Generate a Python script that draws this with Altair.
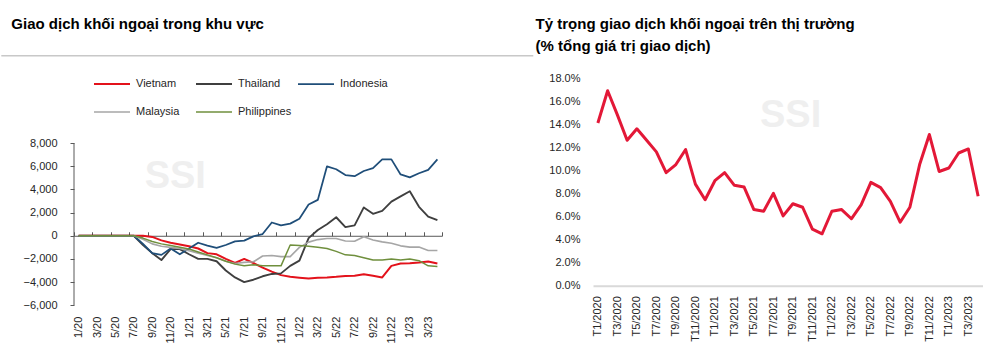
import json
import altair as alt
import pandas as pd

# ---------------- data ----------------
left_labels = [
    "1/20", "2/20", "3/20", "4/20", "5/20", "6/20", "7/20", "8/20", "9/20", "10/20", "11/20", "12/20",
    "1/21", "2/21", "3/21", "4/21", "5/21", "6/21", "7/21", "8/21", "9/21", "10/21", "11/21", "12/21",
    "1/22", "2/22", "3/22", "4/22", "5/22", "6/22", "7/22", "8/22", "9/22", "10/22", "11/22", "12/22",
    "1/23", "2/23", "3/23", "4/23",
]
right_labels = [
    "T1/2020", "T2/2020", "T3/2020", "T4/2020", "T5/2020", "T6/2020", "T7/2020", "T8/2020", "T9/2020", "T10/2020", "T11/2020", "T12/2020",
    "T1/2021", "T2/2021", "T3/2021", "T4/2021", "T5/2021", "T6/2021", "T7/2021", "T8/2021", "T9/2021", "T10/2021", "T11/2021", "T12/2021",
    "T1/2022", "T2/2022", "T3/2022", "T4/2022", "T5/2022", "T6/2022", "T7/2022", "T8/2022", "T9/2022", "T10/2022", "T11/2022", "T12/2022",
    "T1/2023", "T2/2023", "T3/2023", "T4/2023",
]

series_names = ["Vietnam", "Thailand", "Indonesia", "Malaysia", "Philippines"]
series_colors = ["#e3121b", "#3f3f3f", "#1f4e79", "#a6a6a6", "#6f8f3d"]

vietnam = [0, 0, 0, 0, 0, 0, 0, 0, -100, -400, -600, -750, -900, -1100, -1500, -1600, -2000, -2350, -2000, -2350,
           -2750, -3100, -3400, -3550, -3620, -3700, -3620, -3600, -3550, -3480, -3460, -3320, -3460, -3600, -2600,
           -2400, -2380, -2320, -2220, -2400]
thailand = [0, 0, 0, 0, 0, 0, 0, -800, -1500, -2100, -1150, -1150, -1600, -2000, -2000, -2200, -3000, -3600, -4000,
            -3800, -3500, -3300, -3250, -2600, -2150, -200, 500, 1000, 1600, 750, 900, 2450, 1900, 2150, 2950, 3400,
            3850, 2500, 1650, 1350]
indonesia = [0, 0, 0, 0, 0, 0, 0, -700, -1500, -1650, -1100, -1600, -1100, -600, -850, -1050, -800, -480, -420, -50,
             150, 1150, 900, 1050, 1470, 2700, 3100, 6000, 5750, 5250, 5150, 5600, 5850, 6600, 6600, 5300, 5050, 5400,
             5700, 6600]
malaysia = [0, 0, 0, 0, 0, 0, 0, -300, -700, -900, -1000, -1100, -1300, -1500, -1700, -1900, -2200, -2400, -2300,
            -2250, -1750, -1700, -1800, -1800, -1000, -550, -330, -240, -240, -450, -470, -80, -360, -530, -650, -870,
            -980, -980, -1270, -1270]
philippines = [0, 0, 0, 0, 0, 0, 0, -200, -500, -700, -850, -1000, -1150, -1400, -1650, -1900, -2200, -2450, -2600,
               -2500, -2600, -2600, -2600, -800, -850, -900, -1000, -1100, -1350, -1650, -1700, -1900, -2100, -2100,
               -2000, -2100, -2000, -2150, -2600, -2650]

foreign_share = [14.1, 16.9, 14.8, 12.6, 13.6, 12.6, 11.6, 9.8, 10.5, 11.8, 8.8, 7.45, 9.1, 9.8, 8.7, 8.55, 6.6, 6.45,
                 8.0, 6.05, 7.1, 6.8, 4.9, 4.5, 6.45, 6.6, 5.8, 7.0, 8.95, 8.5, 7.3, 5.5, 6.8, 10.5, 13.1, 9.9, 10.2,
                 11.5, 11.85, 7.75]

left_ticks = [-6000, -4000, -2000, 0, 2000, 4000, 6000, 8000]
right_ticks = [0, 2, 4, 6, 8, 10, 12, 14, 16, 18]

left_title = "Giao dịch khối ngoại trong khu vực"
right_title = ["Tỷ trọng giao dịch khối ngoại trên thị trường", "(% tổng giá trị giao dịch)"]

# ---------------- tables ----------------
rows = []
for name, vals in zip(series_names, [vietnam, thailand, indonesia, malaysia, philippines]):
    for i, v in enumerate(vals):
        rows.append({"series": name, "idx": i + 1, "month": left_labels[i], "value": v})
left_df = pd.DataFrame(rows)
right_df = pd.DataFrame({"idx": list(range(1, len(foreign_share) + 1)), "month": right_labels, "share": foreign_share})
one_df = pd.DataFrame({"t": ["SSI"]})

FONT = "Liberation Sans"
LBL = "#262626"
AXC = "#595959"

n = len(left_labels)
odd_idx = list(range(1, n + 1, 2))
bound_idx = [i + 0.5 for i in range(0, n + 1, 2)]

# ---------------- left chart ----------------
# plot area shares its top with the right panel; the axis itself spans -6000..8000
W1 = 368
axis_px = 162.0            # pixel span of -6000..8000
extra_px = 65.2            # room above 8000 used by the legend
H1 = axis_px + extra_px
per_px = (left_ticks[-1] - left_ticks[0]) / axis_px
y_top = left_ticks[-1] + extra_px * per_px
zero_px = H1 * y_top / (y_top - left_ticks[0])

xl_scale = alt.Scale(domain=[0.5, n + 0.5], nice=False, zero=False)
yl_scale = alt.Scale(domain=[left_ticks[0], y_top], nice=False, zero=False)
yl_axis = alt.Axis(values=left_ticks, format=",d", tickSize=4, labelPadding=13, grid=False, domain=False,
                   tickColor=AXC, labelFontSize=11, labelFont=FONT, labelColor=LBL, title=None)

lines = alt.Chart(left_df).mark_line(strokeJoin="round").encode(
    x=alt.X("idx:Q", scale=xl_scale,
            axis=alt.Axis(values=odd_idx, labelExpr=json.dumps(left_labels) + "[datum.value - 1]",
                          labelAngle=270, ticks=False, domain=False, grid=False, labelPadding=11,
                          labelFontSize=11, labelFont=FONT, labelColor=LBL, title=None)),
    y=alt.Y("value:Q", scale=yl_scale, axis=yl_axis),
    color=alt.Color("series:N", scale=alt.Scale(domain=series_names, range=series_colors),
                    legend=alt.Legend(title=None, orient="none", legendX=19, legendY=-13, direction="horizontal",
                                      columns=3, symbolType="stroke", symbolSize=1296, symbolStrokeWidth=2,
                                      labelFontSize=11, labelFont=FONT, labelColor=LBL, gridAlign="all",
                                      columnPadding=2, rowPadding=4, labelOffset=5)),
    strokeWidth=alt.StrokeWidth("series:N", scale=alt.Scale(domain=series_names, range=[2, 1.5, 2, 1.5, 1.7]),
                                legend=None),
)

y_axis_line = alt.Chart(one_df).mark_rule(color=AXC, strokeWidth=1).encode(
    x=alt.X(datum=0.5, scale=xl_scale, axis=None),
    y=alt.Y(datum=left_ticks[0], scale=yl_scale, axis=yl_axis),
    y2=alt.Y2(datum=left_ticks[-1]),
)

zero_axis = alt.Chart(left_df).mark_point(opacity=0).encode(
    x=alt.X("idx:Q", scale=xl_scale,
            axis=alt.Axis(orient="top", values=bound_idx, labels=False, tickSize=4, offset=-zero_px,
                          domainColor=AXC, tickColor=AXC, grid=False, title=None)),
)

sep = alt.Chart(one_df).mark_rule(color="#c8c8c8", strokeWidth=1.5).encode(
    x=alt.value(-72.7), x2=alt.value(459.3), y=alt.value(56 - 78.3)
)
wm_left = alt.Chart(one_df).mark_text(font=FONT, fontSize=38, fontWeight="bold", color="#efefef").encode(
    text="t:N", x=alt.value(101.3), y=alt.value(98.7)
)

left = alt.layer(wm_left, sep, y_axis_line, zero_axis, lines).resolve_axis(x="independent").properties(
    width=W1, height=H1,
    title=alt.TitleParams(left_title, anchor="start", frame="group", font=FONT, fontSize=15, fontWeight="bold",
                          color="#000000", dx=-62.7, offset=11, baseline="alphabetic"),
)

# ---------------- right chart ----------------
W2, H2 = 390, 207.7
wm_right = alt.Chart(one_df).mark_text(font=FONT, fontSize=38, fontWeight="bold", color="#efefef").encode(
    text="t:N", x=alt.value(197.6), y=alt.value(37.7)
)
share_line = alt.Chart(right_df).mark_line(color="#e31837", strokeWidth=3, strokeJoin="round").encode(
    x=alt.X("idx:Q", scale=alt.Scale(domain=[0.5, n + 0.5], nice=False, zero=False),
            axis=alt.Axis(values=odd_idx, labelExpr=json.dumps(right_labels) + "[datum.value - 1]",
                          labelAngle=270, ticks=False, domainColor="#d9d9d9", domainWidth=2, grid=False,
                          labelPadding=10, labelFontSize=11, labelFont=FONT, labelColor=LBL, title=None)),
    y=alt.Y("share:Q", scale=alt.Scale(domain=[0, 18], nice=False),
            axis=alt.Axis(values=right_ticks, labelExpr="format(datum.value, '.1f') + '%'", domain=False,
                          ticks=False, grid=False, labelPadding=13, labelFontSize=11, labelFont=FONT,
                          labelColor=LBL, title=None)),
)
right = alt.layer(wm_right, share_line).properties(
    width=W2, height=H2,
    title=alt.TitleParams(right_title, anchor="start", frame="group", font=FONT, fontSize=15, fontWeight="bold",
                          color="#000000", dx=-57.4, offset=6, lineHeight=22, baseline="alphabetic"),
)

chart = alt.hconcat(left, right, spacing=0).properties(
    padding={"left": 0, "top": 16, "right": 0, "bottom": 0},
    background="white",
).configure_view(stroke=None)

chart.save("out.html", embed_options={"renderer": "svg", "actions": False})
